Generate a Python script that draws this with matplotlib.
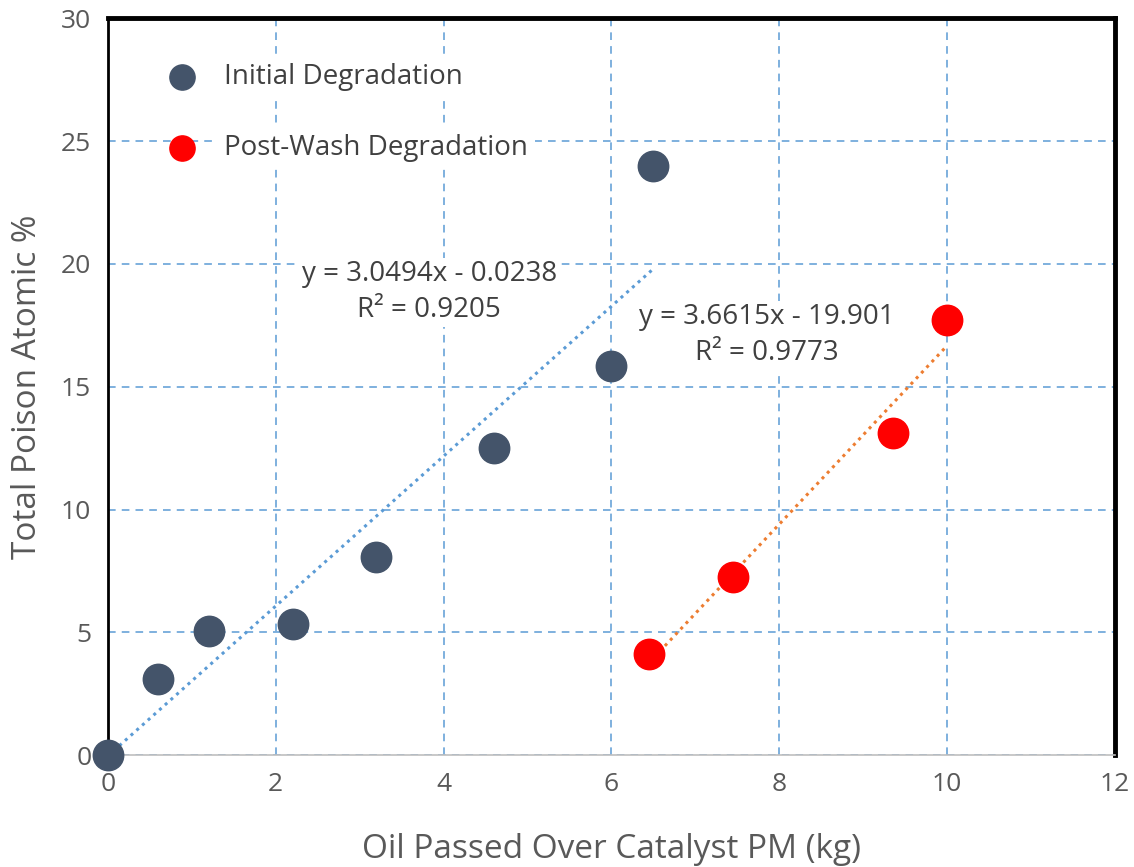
import matplotlib.pyplot as plt
import numpy as np

plt.rcParams["font.family"] = ["Open Sans", "DejaVu Sans"]

initial_x = [0.0, 0.6, 1.2, 2.2, 3.2, 4.6, 6.0, 6.5]
initial_y = [0.0, 3.1, 5.05, 5.35, 8.05, 12.5, 15.85, 24.0]
wash_x = [6.45, 7.45, 9.35, 10.0]
wash_y = [4.1, 7.25, 13.1, 17.7]

fig = plt.figure(figsize=(11.34, 8.67), dpi=100)
ax = fig.add_axes([0.0952, 0.129, 0.888, 0.85])

ax.set_xlim(0, 12)
ax.set_ylim(0, 30)
ax.set_xticks(range(0, 13, 2))
ax.set_yticks(range(0, 31, 5))
ax.grid(True, color="#5b9bd5", linestyle=(0, (5, 4)), linewidth=1.1)
ax.set_axisbelow(True)

for x, y, c, lo, hi in [(initial_x, initial_y, "#5b9bd5", 0, 6.5),
                        (wash_x, wash_y, "#ed7d31", 6.45, 10.0)]:
    m, b = np.polyfit(x, y, 1)
    xs = np.array([lo, hi])
    ax.plot(xs, m * xs + b, color=c, linestyle=(0, (1, 1.5)), linewidth=2.2, zorder=2)

ax.scatter(initial_x, initial_y, s=480, color="#44546a", zorder=3, clip_on=False)
ax.scatter(wash_x, wash_y, s=480, color="#ff0000", zorder=3, clip_on=False)

ax.text(3.83, 18.85, "y = 3.0494x - 0.0238\nR² = 0.9205", fontsize=20, color="#404040",
        ha="center", va="center", linespacing=1.35,
        bbox=dict(facecolor="white", edgecolor="none", pad=2), zorder=2.5)
ax.text(7.85, 17.1, "y = 3.6615x - 19.901\nR² = 0.9773", fontsize=20, color="#404040",
        ha="center", va="center", linespacing=1.35,
        bbox=dict(facecolor="white", edgecolor="none", pad=2), zorder=2.5)

# legend drawn by hand, matching the reference layout
ax.scatter([0.88], [27.6], s=330, color="#44546a", zorder=4)
ax.scatter([0.88], [24.7], s=330, color="#ff0000", zorder=4)
ax.text(1.38, 27.6, "Initial Degradation", fontsize=20, color="#404040", va="center",
        bbox=dict(facecolor="white", edgecolor="none", pad=5), zorder=3.5)
ax.text(1.38, 24.7, "Post-Wash Degradation", fontsize=20, color="#404040", va="center",
        bbox=dict(facecolor="white", edgecolor="none", pad=5), zorder=3.5)

for side in ["top", "right", "left"]:
    ax.spines[side].set_color("black")
ax.spines["top"].set_linewidth(3.5)
ax.spines["right"].set_linewidth(3.5)
ax.spines["left"].set_linewidth(2)
ax.spines["bottom"].set_color("#bfbfbf")
ax.spines["bottom"].set_linewidth(1.2)

ax.tick_params(length=0, labelsize=19, labelcolor="#595959", pad=12)
ax.set_xlabel("Oil Passed Over Catalyst PM (kg)", fontsize=24, color="#595959", labelpad=26)
ax.set_ylabel("Total Poison Atomic %", fontsize=24, color="#595959", labelpad=12)

fig.savefig("out.png", dpi=100)
